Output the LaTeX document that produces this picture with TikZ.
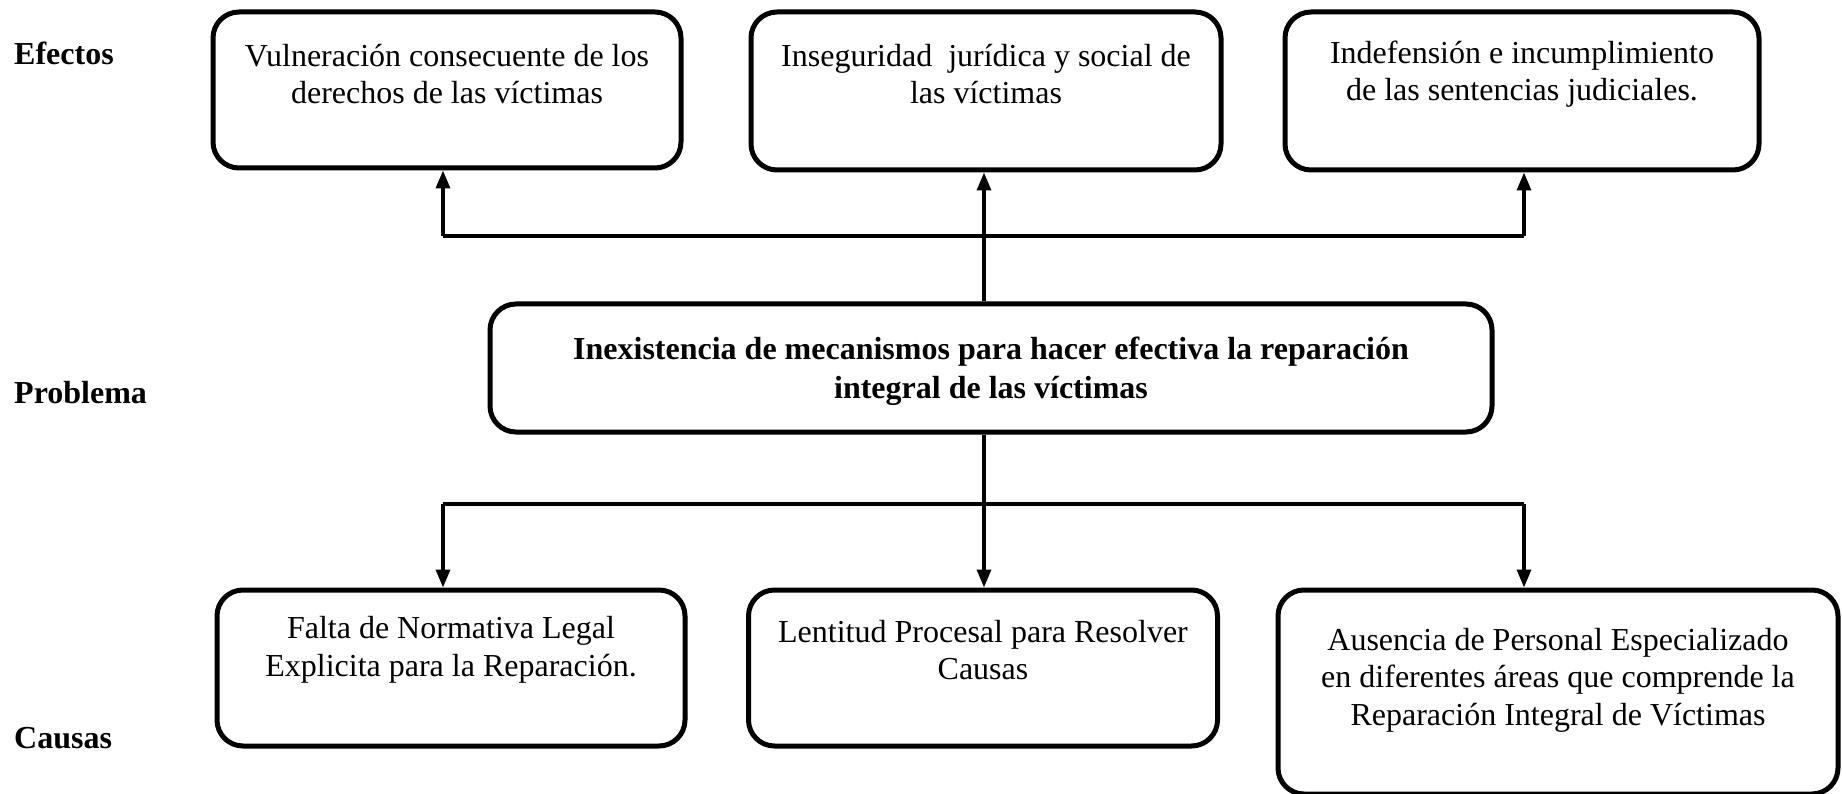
\documentclass[tikz,border=0pt]{standalone}
\usepackage{fontspec}
\setmainfont{Liberation Serif}
\usetikzlibrary{arrows.meta}
\tikzset{
  box/.style={draw=black, line width=5pt, rounded corners=26pt, inner sep=0pt},
  txt/.style={align=center, inner sep=0pt, font=\fontsize{32pt}{37.5pt}\selectfont},
  lbl/.style={anchor=west, inner sep=0pt, font=\fontsize{32pt}{37.5pt}\selectfont\bfseries},
  conn/.style={line width=3.5pt},
  arr/.style={line width=3.5pt, -{Triangle[length=18pt,width=14pt]}}
}
\begin{document}
\begin{tikzpicture}[x=1pt,y=1pt]
\useasboundingbox (0,0) rectangle (1842,-794);
% labels
\node[lbl] (lefe) at (14,-53) {Efectos};
\node[lbl] (lpro) at (14,-393) {Problema};
\node[lbl] (lcau) at (14,-738) {Causas};
% effect boxes
\node[box, minimum width=468pt, minimum height=156pt] (E1) at (447,-90) {};
\node[box, minimum width=470pt, minimum height=158pt] (E2) at (986,-91) {};
\node[box, minimum width=474pt, minimum height=158pt] (E3) at (1522,-91) {};
\node[txt] (tE1) at (447,-74) {Vulneración consecuente de los\\derechos de las víctimas};
\node[txt] (tE2) at (986,-74) {Inseguridad\ \ jurídica y social de\\las víctimas};
\node[txt] (tE3) at (1522,-74) {Indefensión e incumplimiento\\de las sentencias judiciales.};
% problem box
\node[box, minimum width=1002pt, minimum height=128pt] (P) at (991,-368) {};
\node[txt, font=\fontsize{32pt}{39pt}\selectfont\bfseries] (tP) at (991,-371) {Inexistencia de mecanismos para hacer efectiva la reparación\\integral de las víctimas};
% cause boxes
\node[box, minimum width=468pt, minimum height=156pt] (C1) at (451,-668) {};
\node[box, minimum width=469pt, minimum height=156pt] (C2) at (983,-668) {};
\node[box, minimum width=560pt, minimum height=204pt] (C3) at (1558,-692) {};
\node[txt] (tC1) at (451,-650) {Falta de Normativa Legal\\Explicita para la Reparación.};
\node[txt] (tC2) at (983,-650) {Lentitud Procesal para Resolver\\Causas};
\node[txt] (tC3) at (1558,-680) {Ausencia de Personal Especializado\\en diferentes áreas que comprende la\\Reparación Integral de Víctimas};
% connectors top
\coordinate (tj) at (984,-236);
\coordinate (tl) at (443,-236);
\coordinate (tr) at (1524,-236);
\draw[arr] (P.north -| tj) -- (E2.south -| tj);
\draw[conn] (tl) -- (tr);
\draw[arr] (tl) -- (tl |- E1.south);
\draw[arr] (tr) -- (tr |- E3.south);
% connectors bottom
\coordinate (bj) at (984,-504);
\coordinate (bl) at (443,-504);
\coordinate (br) at (1524,-504);
\draw[arr] (P.south -| bj) -- (C2.north -| bj);
\draw[conn] (bl) -- (br);
\draw[arr] (bl) -- (bl |- C1.north);
\draw[arr] (br) -- (br |- C3.north);
\end{tikzpicture}
\end{document}
